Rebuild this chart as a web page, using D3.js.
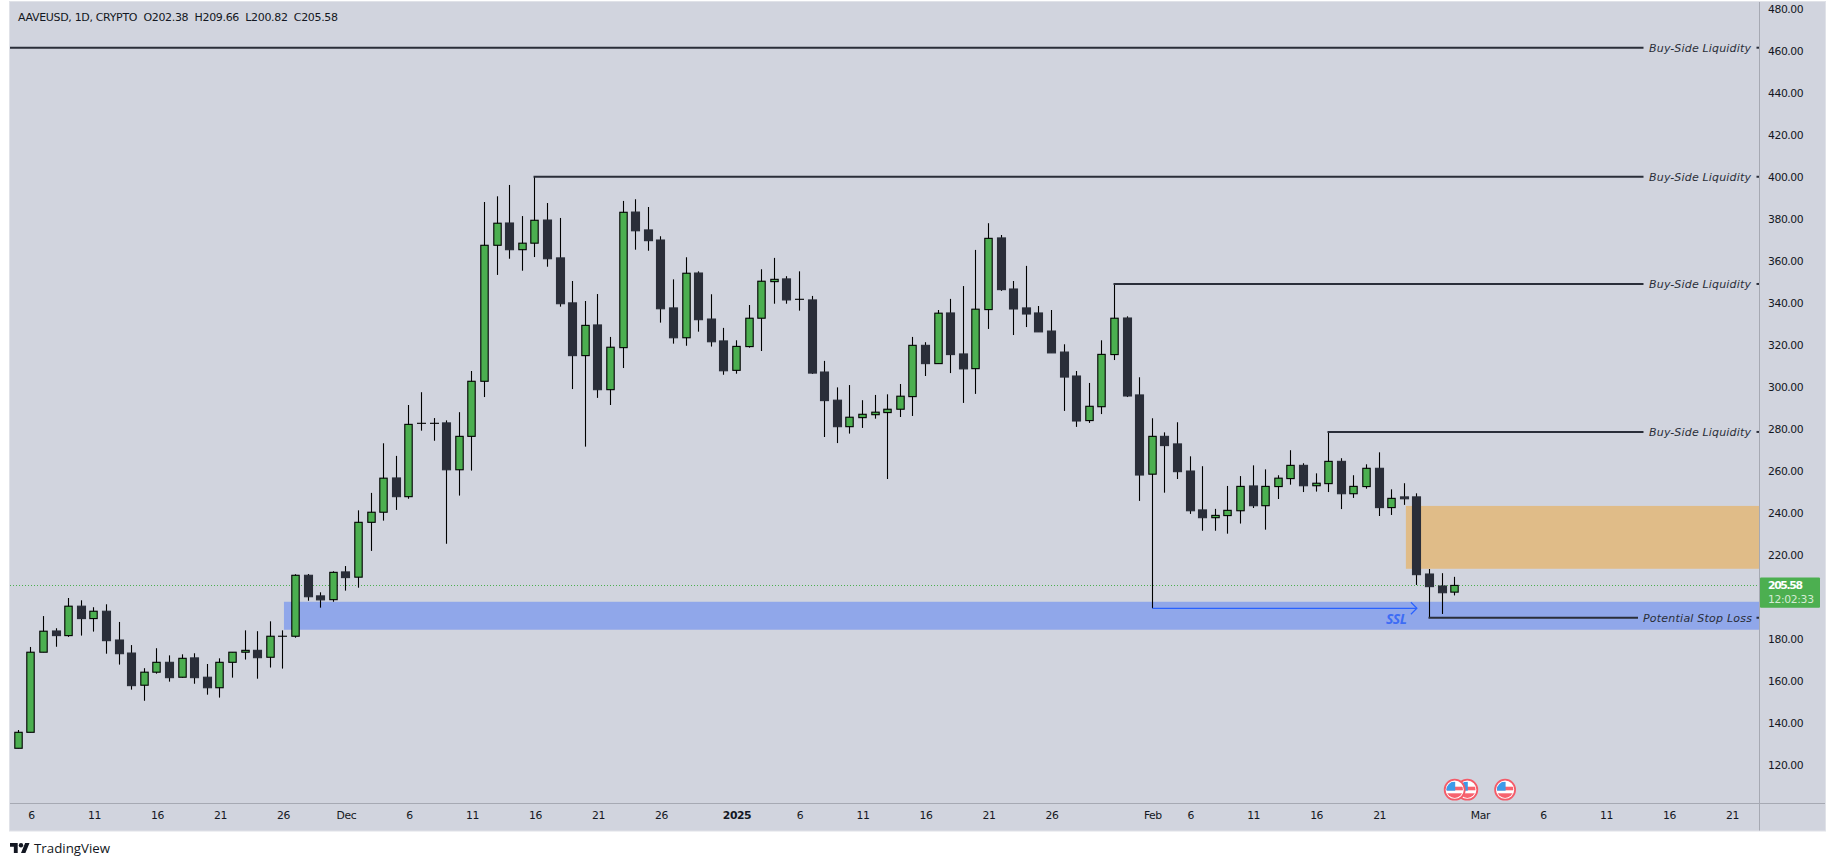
<!DOCTYPE html>
<html><head><meta charset="utf-8">
<script src="https://cdn.jsdelivr.net/npm/d3@7"></script>
<style>html,body{margin:0;padding:0;background:#fff;overflow:hidden}svg{display:block}</style>
</head><body><svg id="c" width="1835" height="866"></svg>
<script>
const firstDay = "2024-11-05";
const opens = [128.1,135.7,173.8,183.9,181.7,195.7,189.8,193.3,179.6,173.4,158.1,164.3,169,161.9,171.1,161.9,156.9,169,173.8,174.7,171.4,181.4,181.4,210.4,200.6,198.8,212,209.5,235.6,240.4,256.7,247.8,282.7,282.7,282.9,260.6,276.5,302.7,367.4,378,365.3,368.4,379.4,361.4,340,314.9,329.5,298.7,318.7,383.2,374.7,369.9,337.6,323.4,354.2,332.3,321.9,307.9,319.2,332.7,350.1,351.4,341.7,341.4,307.1,293.7,281.1,285.4,286.8,287.8,289.4,295.4,319.8,311.1,335.2,315.7,308.7,336.8,370.9,346.6,337.6,335.2,326.6,316.6,305.2,284,290.6,315.4,332.8,296.2,258.5,276.5,272.9,260,241.5,237.8,238.8,241.1,252.9,243.5,252.6,256.4,262.7,253,254,264.6,249.2,252.6,261.3,242.6,247.7,247.7,211,205.3,202.38];
const highs = [136.8,176.3,191,185.2,199.6,198.5,195.2,196.6,188.2,177.2,166.2,175.7,172.3,172.8,173.3,168.2,170.9,173.8,184.2,183.8,188.5,184.2,210.9,211,202.3,212.3,214.8,241.3,249.6,273.2,267.2,291.4,297.5,285.2,284.1,288,307.6,388,390.7,396.1,381.3,400,387.5,380.4,350.4,340.9,344.2,323.8,388.5,389.3,385.6,371.7,351.2,361.7,355,344.1,328.1,322.2,339,356,361.4,352.7,355,343.3,312.4,299.8,300.9,293.7,296.2,296.5,301.4,323.8,321.3,336.6,341.9,348,365.2,377.9,372.3,350.4,357.6,338.5,336.6,320.3,307.6,301.9,322.2,349,333.6,304.6,285.1,278.4,283.2,267,262.3,242,252.9,257.6,262.7,260.8,258,269.9,263.7,258.9,278.6,266.1,258,263.2,268.9,251.3,254.2,249.4,213.4,211.4,209.66];
const lows = [128.1,135.7,173.8,176.4,181.1,181.7,183.6,173.1,167.9,156,150.7,163.6,159.8,161.7,158.8,153.6,152.2,161.7,170.3,161.2,166.5,166,180.7,198.3,195,197.8,203.1,204.5,222,236.4,241.5,246.8,279.2,274.4,225.4,248.3,260.2,295.2,353.3,361,355.3,361.8,357.2,338.2,299,271.6,294.8,291.4,309,365.3,364.8,330.6,320.6,319.6,326.3,319.2,305.8,306.3,318.7,317.1,339.6,339.6,336.3,306.2,276.2,273.3,277.8,280.5,284.9,256.2,285.7,286.2,305.2,311,306.6,292.4,296.7,327.6,345.7,324.7,328.5,326.2,316.2,288.6,281,282.9,287.1,312.8,295.2,245.8,194.7,249.7,256.2,239.6,231.6,231.6,230.2,235,242.4,232.1,246.7,253.5,250,250.2,250,241.9,247.2,251.6,238.6,239.1,243.9,205.8,190.2,192,200.82];
const closes = [135.7,173.8,183.8,181.7,195.7,189.8,193.3,179.3,173.1,157.9,164.3,169,161.7,170.9,161.7,156.9,169,173.8,174.7,171.2,181.4,181.4,210.4,200.2,198.7,211.8,209.3,235.6,240.4,256.6,247.8,282.2,282.7,282.7,260.6,276.5,302.7,367.4,377.9,365.3,368.4,379.3,361,339.6,314.9,329.3,298.7,318.9,383.1,374.3,369.6,337.2,323.4,354.1,332,321.5,307.7,319.3,332.7,350.3,351.2,341.4,341.7,306.6,293.5,281.1,285.6,287,288,289.4,295.6,319.8,311.1,335.1,315.4,308.6,337,370.7,346.3,337.1,334.7,326.2,316.2,304.7,283.8,290.8,315.5,332.7,295.7,258.1,276.5,272.1,259.7,241.1,237.8,238.9,241.3,252.7,243.5,252.7,256.6,262.7,253,254.2,264.6,249.2,252.7,261.3,242.6,247,246.8,210.7,205,202.1,205.58];
const priceTicks = [480,460,440,420,400,380,360,340,320,300,280,260,240,220,180,160,140,120];
const timeTickDates = ["2024-11-06","2024-11-11","2024-11-16","2024-11-21","2024-11-26","2024-12-01","2024-12-06","2024-12-11","2024-12-16","2024-12-21","2024-12-26","2025-01-01","2025-01-06","2025-01-11","2025-01-16","2025-01-21","2025-01-26","2025-02-03","2025-02-06","2025-02-11","2025-02-16","2025-02-21","2025-03-01","2025-03-06","2025-03-11","2025-03-16","2025-03-21"];
const timeTickLabels = ["6","11","16","21","26","Dec","6","11","16","21","26","2025","6","11","16","21","26","Feb","6","11","16","21","Mar","6","11","16","21"];
const liquidityLevels = [461.4,400,349,278.6];
const liquidityStarts = [null,"2024-12-16","2025-01-31","2025-02-17"];
const liquidityLabel = "Buy-Side Liquidity";
const stopLossLevel = 190.2, stopLossStart = "2025-02-25", stopLossLabel = "Potential Stop Loss";
const sslLevel = 194.7, sslStart = "2025-02-03", sslEnd = "2025-02-24", sslLabel = "SSL";
const supplyZone = {from:"2025-02-23T03:00Z", top:243.4, bottom:213.5};
const demandZone = {from:"2024-11-26T02:00Z", top:197.8, bottom:184.5};
const eventDates = ["2025-03-03","2025-02-28","2025-02-27"];
const lastPrice = 205.58, countdown = "12:02:33";
const header = "AAVEUSD, 1D, CRYPTO\u00a0\u00a0O202.38\u00a0\u00a0H209.66\u00a0\u00a0L200.82\u00a0\u00a0C205.58";

const FONT = "'DejaVu Sans',sans-serif";
const AXFS = 10.8, AXLS = -.42;
const INK = "#131722", DARK = "#2a2e39", GREEN = "#4caf50", WICK = "#000";
const L = 10, R = 1759.5, T = 2, B = 803.5, PR = 1825, PB = 830.5;
const parse = s => new Date(s.length > 10 ? s : s + "T00:00:00Z");
const svg = d3.select("#c");
const day0 = parse(firstDay);
const days = opens.map((_, i) => d3.utcDay.offset(day0, i));
const x = d3.scaleUtc().domain([day0, parse("2025-03-21")]).range([18.3, 1731.9]);
const y = d3.scaleLinear().domain([480, 120]).range([8.6, 765.3]);
const snap = v => Math.round(v - .5) + .5;

svg.append("rect").attr("x",L-.5).attr("y",T-.5).attr("width",PR-L+1).attr("height",PB-T+1)
  .attr("fill","#d1d4de").attr("stroke","#e0e2e8");

// zones
[[supplyZone,"#e0bc88"],[demandZone,"#90a7ea"]].forEach(([z,c]) => {
  svg.append("rect").attr("x",x(parse(z.from))).attr("y",y(z.top))
    .attr("width",R-x(parse(z.from))).attr("height",y(z.bottom)-y(z.top)).attr("fill",c);
});

// last price line
svg.append("line").attr("x1",L).attr("x2",R).attr("y1",snap(y(lastPrice))).attr("y2",snap(y(lastPrice)))
  .attr("stroke",GREEN).attr("stroke-width",1).attr("stroke-dasharray","1 2");

// candles
const idx = d3.range(opens.length);
const g = svg.append("g");
g.selectAll("line.w").data(idx).join("line").attr("class","w")
  .attr("x1",i=>snap(x(days[i]))).attr("x2",i=>snap(x(days[i])))
  .attr("y1",i=>y(highs[i])).attr("y2",i=>y(lows[i]))
  .attr("stroke",WICK).attr("stroke-width",1.1);
g.selectAll("rect.b").data(idx.filter(i=>Math.abs(opens[i]-closes[i])>0.01)).join("rect").attr("class","b")
  .attr("x",i=>snap(x(days[i]))-(closes[i]>opens[i]?3.7:4))
  .attr("width",i=>closes[i]>opens[i]?7.4:8)
  .attr("y",i=>y(Math.max(opens[i],closes[i])))
  .attr("height",i=>Math.max(.6,Math.abs(y(opens[i])-y(closes[i]))))
  .attr("fill",i=>closes[i]>opens[i]?GREEN:DARK)
  .attr("stroke",i=>closes[i]>opens[i]?"#000":DARK).attr("stroke-width",1.1);
g.selectAll("line.d").data(idx.filter(i=>Math.abs(opens[i]-closes[i])<=0.01)).join("line").attr("class","d")
  .attr("x1",i=>snap(x(days[i]))-4.5).attr("x2",i=>snap(x(days[i]))+4.5)
  .attr("y1",i=>y(opens[i])).attr("y2",i=>y(opens[i])).attr("stroke",WICK).attr("stroke-width",1.1);

// horizontal liquidity lines
const lineEnd = 1643.5;
liquidityLevels.forEach((lv,i) => {
  const yy = y(lv), x0 = liquidityStarts[i] ? snap(x(parse(liquidityStarts[i])))-1 : L;
  svg.append("line").attr("x1",x0).attr("x2",lineEnd).attr("y1",yy).attr("y2",yy).attr("stroke",DARK).attr("stroke-width",2);
  svg.append("line").attr("x1",1756.5).attr("x2",1759).attr("y1",yy).attr("y2",yy).attr("stroke",DARK).attr("stroke-width",2);
  svg.append("text").attr("x",1649).attr("y",yy+4).attr("font-family",FONT).attr("font-style","italic")
    .attr("font-size",11).attr("textLength",102).attr("fill",DARK).text(liquidityLabel);
});
{
  const yy = y(stopLossLevel);
  svg.append("line").attr("x1",snap(x(parse(stopLossStart)))-1).attr("x2",1638).attr("y1",yy).attr("y2",yy).attr("stroke",DARK).attr("stroke-width",2);
  svg.append("line").attr("x1",1756.5).attr("x2",1759).attr("y1",yy).attr("y2",yy).attr("stroke",DARK).attr("stroke-width",2);
  svg.append("text").attr("x",1643).attr("y",yy+4).attr("font-family",FONT).attr("font-style","italic")
    .attr("font-size",11).attr("textLength",109).attr("fill",DARK).text(stopLossLabel);
}
// SSL arrow
{
  const yy = y(sslLevel), xa = snap(x(parse(sslStart))), xb = x(parse(sslEnd));
  const BLUE = "#2962ff";
  svg.append("line").attr("x1",xa).attr("x2",xb).attr("y1",yy).attr("y2",yy).attr("stroke",BLUE).attr("stroke-width",1.2);
  svg.append("path").attr("d",`M${xb-6},${yy-6}L${xb},${yy}L${xb-6},${yy+6}`).attr("fill","none").attr("stroke",BLUE).attr("stroke-width",1.2);
  svg.append("text").attr("x",1386).attr("y",yy+16).attr("font-family","'Open Sans',sans-serif").attr("font-style","italic").attr("font-weight",700)
    .attr("font-size",14).attr("textLength",21).attr("fill","#3d6cf5").text(sslLabel);
}

// axes frames
svg.append("line").attr("x1",R).attr("x2",R).attr("y1",T).attr("y2",PB).attr("stroke","#a6a9b3");
svg.append("line").attr("x1",L).attr("x2",PR).attr("y1",B).attr("y2",B).attr("stroke","#a6a9b3");

const yAxis = svg.append("g").attr("transform",`translate(${R},0)`)
  .call(d3.axisRight(y).tickValues(priceTicks).tickSize(0).tickPadding(8.5).tickFormat(d3.format(".2f")));
yAxis.select(".domain").remove();
yAxis.selectAll("text").attr("font-family",FONT).attr("font-size",AXFS).attr("letter-spacing",AXLS).attr("fill",INK);

const timeTicks = timeTickDates.map(parse);
const xAxis = svg.append("g").attr("transform",`translate(0,${B})`)
  .call(d3.axisBottom(x).tickValues(timeTicks).tickSize(0).tickPadding(8).tickFormat((d,i)=>timeTickLabels[i]));
xAxis.select(".domain").remove();
xAxis.selectAll("text").attr("font-family",FONT).attr("font-size",AXFS).attr("letter-spacing",AXLS).attr("fill",INK)
  .attr("font-weight",(d,i)=>timeTickLabels[i]==="2025"?700:400);

// price tag
const ly = y(lastPrice);
svg.append("rect").attr("x",1760).attr("y",ly-8).attr("width",60).attr("height",30.3).attr("rx",1).attr("fill",GREEN);
svg.append("text").attr("x",1768).attr("y",ly+4).attr("font-family",FONT).attr("font-size",AXFS).attr("textLength",35).attr("font-weight",700).attr("fill","#fff").text(d3.format(".2f")(lastPrice));
svg.append("text").attr("x",1768).attr("y",ly+18).attr("font-family",FONT).attr("font-size",AXFS).attr("textLength",46).attr("fill","#d4ecd5").text(countdown);

// event flags
const defs = svg.append("defs");
defs.append("clipPath").attr("id","fc").append("circle").attr("r",8.2);
const flags = svg.selectAll("g.f").data(eventDates).join("g").attr("class","f")
  .attr("transform",d=>`translate(${x(parse(d))},789.7)`);
flags.append("circle").attr("r",10).attr("fill","#fff").attr("stroke","#f45b69").attr("stroke-width",1.8);
const fi = flags.append("g").attr("clip-path","url(#fc)");
fi.append("rect").attr("x",-9).attr("y",-9).attr("width",18).attr("height",18).attr("fill","#fff");
fi.append("rect").attr("x",-9).attr("y",-3).attr("width",18).attr("height",3.6).attr("fill","#f7636f");
fi.append("rect").attr("x",-9).attr("y",3.6).attr("width",18).attr("height",5).attr("fill","#f7636f");
fi.append("rect").attr("x",-9).attr("y",-8).attr("width",9.5).attr("height",9).attr("fill","#3d9be9");

// header
svg.append("text").attr("x",18).attr("y",21).attr("font-family",FONT).attr("font-size",11).attr("textLength",320).attr("fill",INK).text(header);

// TradingView logo
const logo = svg.append("g").attr("transform","translate(10,840.8) scale(.55)").attr("fill",INK);
logo.append("path").attr("d","M14 22H7V11H0V4h14v18zM28 22h-8l7.5-18h8L28 22z");
logo.append("circle").attr("cx",20).attr("cy",8).attr("r",4);
svg.append("text").attr("x",34).attr("y",853).attr("font-family","'Open Sans',sans-serif").attr("font-size",13.3).attr("fill",INK).text("TradingView");
</script></body></html>
